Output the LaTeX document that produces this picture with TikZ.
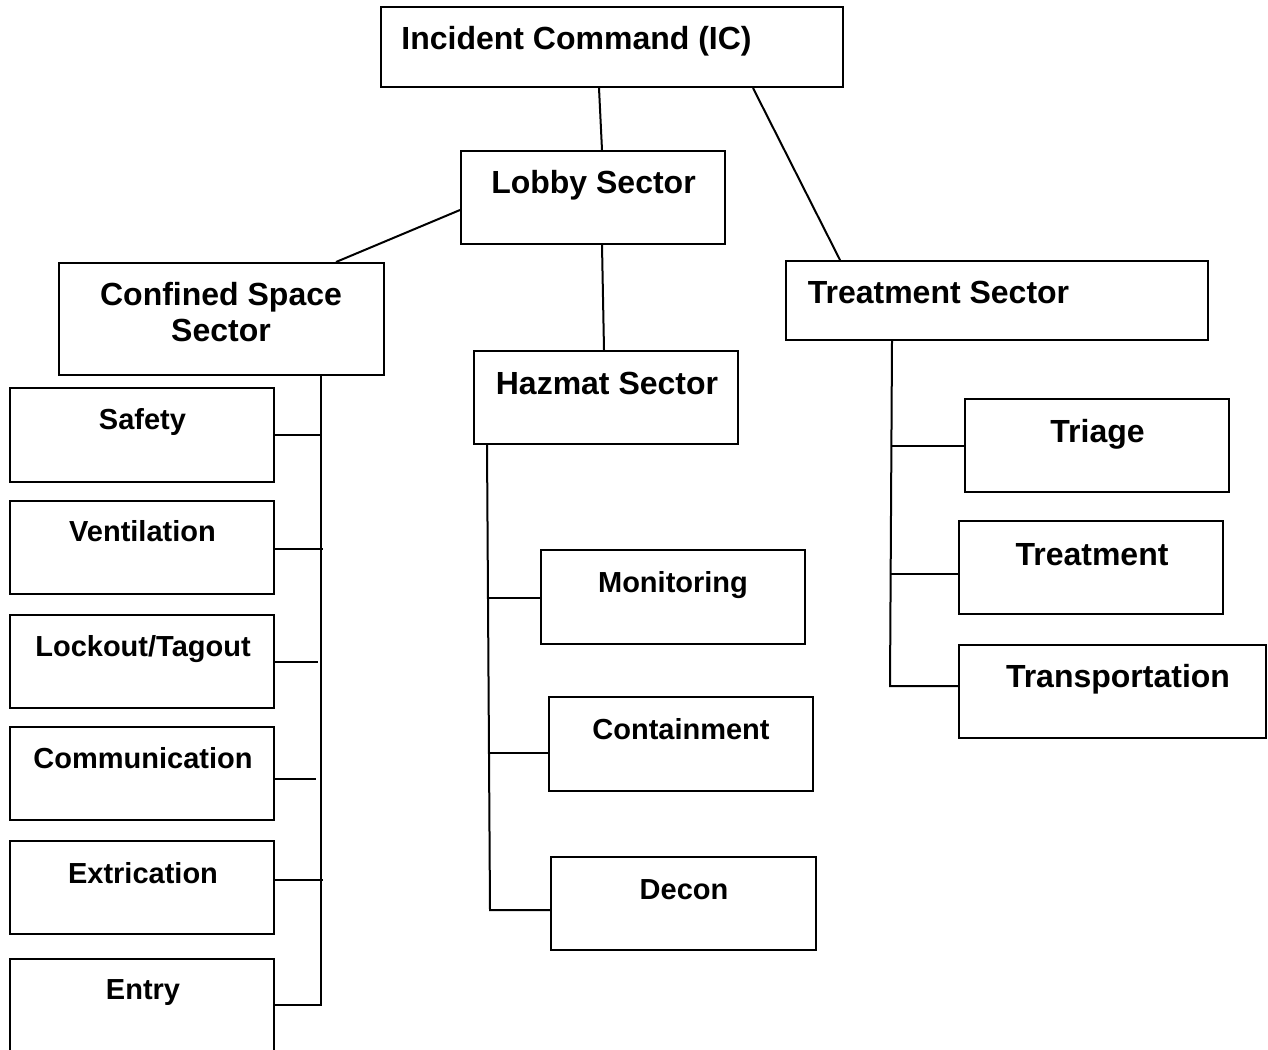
\documentclass[tikz,border=0pt]{standalone}
\usepackage{fontspec}
\setmainfont{Liberation Sans}
\usetikzlibrary{fit,calc}
\begin{document}
\begin{tikzpicture}[x=0.5pt,y=-0.5pt,
  box/.style={draw,line width=1pt,inner sep=0pt},
  big/.style={font=\bfseries\fontsize{16}{19}\selectfont,anchor=base,inner sep=0pt},
  small/.style={font=\bfseries\fontsize{14.5}{17}\selectfont,anchor=base,inner sep=0pt},
  wire/.style={line width=1pt}]
\useasboundingbox (0,0) rectangle (1268,1049);
\clip (0,0) rectangle (1268,1049);

% top levels
\node[box,fit={(381,7)(843,87)}] (ic) {};
\node[big] (icT) at (576.5,49) {Incident Command (IC)};
\node[box,fit={(461,151)(725,244)}] (lobby) {};
\node[big] (lobbyT) at (593.5,193) {Lobby Sector};
\node[box,fit={(59,263)(384,375)}] (cs) {};
\node[big] (csT1) at (221,305) {Confined Space};
\node[big] (csT2) at (221,341) {Sector};
\node[box,fit={(786,261)(1208,340)}] (ts) {};
\node[big] (tsT) at (938.5,303) {Treatment Sector};
\node[box,fit={(474,351)(738,444)}] (hz) {};
\node[big] (hzT) at (607,394) {Hazmat Sector};

% confined space units
\node[box,fit={(10,388)(274,482)}] (safety) {};
\node[small] (safetyT) at (142.5,429) {Safety};
\node[box,fit={(10,501)(274,594)}] (vent) {};
\node[small] (ventT) at (142.5,541) {Ventilation};
\node[box,fit={(10,615)(274,708)}] (lock) {};
\node[small] (lockT) at (143,656) {Lockout/Tagout};
\node[box,fit={(10,727)(274,820)}] (comm) {};
\node[small] (commT) at (143,768) {Communication};
\node[box,fit={(10,841)(274,934)}] (extr) {};
\node[small] (extrT) at (143,883) {Extrication};
\node[box,fit={(10,959)(274,1070)}] (entry) {};
\node[small] (entryT) at (143,999) {Entry};

% hazmat units
\node[box,fit={(541,550)(805,644)}] (mon) {};
\node[small] (monT) at (673,592) {Monitoring};
\node[box,fit={(549,697)(813,791)}] (cont) {};
\node[small] (contT) at (681,739) {Containment};
\node[box,fit={(551,857)(816,950)}] (decon) {};
\node[small] (deconT) at (684,899) {Decon};

% treatment units
\node[box,fit={(965,399)(1229,492)}] (triage) {};
\node[big] (triageT) at (1097.5,442) {Triage};
\node[box,fit={(959,521)(1223,614)}] (treat) {};
\node[big] (treatT) at (1092,565) {Treatment};
\node[box,fit={(959,645)(1266,738)}] (transp) {};
\node[big] (transpT) at (1118,687) {Transportation};

% links between sectors
\draw[wire] ($(ic.south west)+(219,0)$) -- ($(lobby.north west)+(142,0)$);
\draw[wire] ($(ic.south west)+(373,0)$) -- ($(ts.north west)+(55,0)$);
\draw[wire] ($(lobby.south west)+(0,-35)$) -- ($(cs.north west)+(278,0)$);
\draw[wire] ($(lobby.south west)+(142,0)$) -- ($(hz.north west)+(131,0)$);

% confined space bus
\coordinate (csbus) at ($(cs.south west)+(263,0)$);
\draw[wire] (csbus) |- ($(entry.north east)+(0,47)$);
\draw[wire] (safety.east) -- (safety.east -| csbus);
\draw[wire] ($(vent.east)+(0,1.5)$) -- ++(48,0);
\draw[wire] (lock.east) -- ++(43,0);
\draw[wire] ($(comm.east)+(0,5.5)$) -- ++(41,0);
\draw[wire] ($(extr.east)+(0,-7.5)$) -- ++(48,0);

% hazmat bus
\coordinate (hzbus) at ($(hz.south west)+(14,0)$);
\draw[wire] (hzbus) -- ($(decon.west)+(-60,6.5)$) -- ($(decon.west)+(0,6.5)$);
\draw[wire] ($(mon.west)+(0,1)$) -- ++(-52,0);
\draw[wire] ($(cont.west)+(0,9)$) -- ++(-59,0);

% treatment bus
\coordinate (tsbus) at ($(ts.south west)+(107,0)$);
\draw[wire] (tsbus) -- ($(transp.west)+(-68,-5.5)$) -- ($(transp.west)+(0,-5.5)$);
\draw[wire] (triage.west) -- ++(-72,0);
\draw[wire] ($(treat.west)+(0,6.5)$) -- ++(-68,0);
\end{tikzpicture}
\end{document}
